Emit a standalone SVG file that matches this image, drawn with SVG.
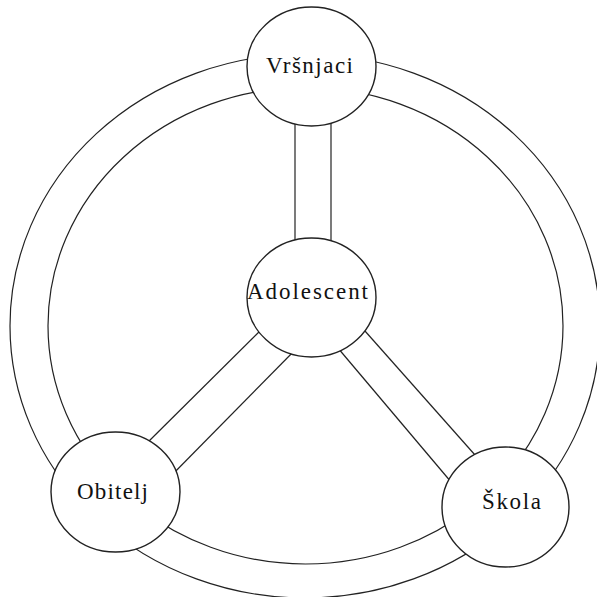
<svg xmlns="http://www.w3.org/2000/svg" width="597" height="597" viewBox="0 0 597 597">
<style>
.ring{fill:none;stroke:#222;stroke-width:1.2}
.link{stroke:#222;stroke-width:1.2;fill:none}
.node{fill:#fff;stroke:#222;stroke-width:1.4}
.lbl{font-family:"Liberation Serif","Times New Roman",serif;font-size:23px;fill:#111;text-anchor:middle}
</style>
<rect width="597" height="597" fill="#fff"/>
<g id="rings">
<ellipse class="ring" cx="305" cy="326" rx="295" ry="272"/>
<ellipse class="ring" cx="305.5" cy="325.7" rx="257.5" ry="238.3"/>
</g>
<g id="connectors">
<line class="link" x1="295" y1="115" x2="295" y2="250"/>
<line class="link" x1="331" y1="115" x2="331" y2="250"/>
<line class="link" x1="268" y1="323" x2="140" y2="450"/>
<line class="link" x1="300" y1="345" x2="166" y2="481"/>
<line class="link" x1="357" y1="322" x2="483" y2="464"/>
<line class="link" x1="332" y1="341" x2="457" y2="489"/>
</g>
<g id="vrsnjaci">
<ellipse class="node" cx="311.5" cy="66.5" rx="64.5" ry="59.5"/>
<text class="lbl" x="309.5" y="73" textLength="87" lengthAdjust="spacing">Vršnjaci</text>
</g>
<g id="adolescent">
<ellipse class="node" cx="311.5" cy="297.5" rx="64.5" ry="59.5"/>
<text class="lbl" x="307.5" y="299" textLength="121" lengthAdjust="spacing">Adolescent</text>
</g>
<g id="obitelj">
<ellipse class="node" cx="115.5" cy="492" rx="64.5" ry="60"/>
<text class="lbl" x="112.5" y="499" textLength="71" lengthAdjust="spacing">Obitelj</text>
</g>
<g id="skola">
<ellipse class="node" cx="505.5" cy="507" rx="63.5" ry="60"/>
<text class="lbl" x="511.5" y="509" textLength="59" lengthAdjust="spacing">Škola</text>
</g>
</svg>
